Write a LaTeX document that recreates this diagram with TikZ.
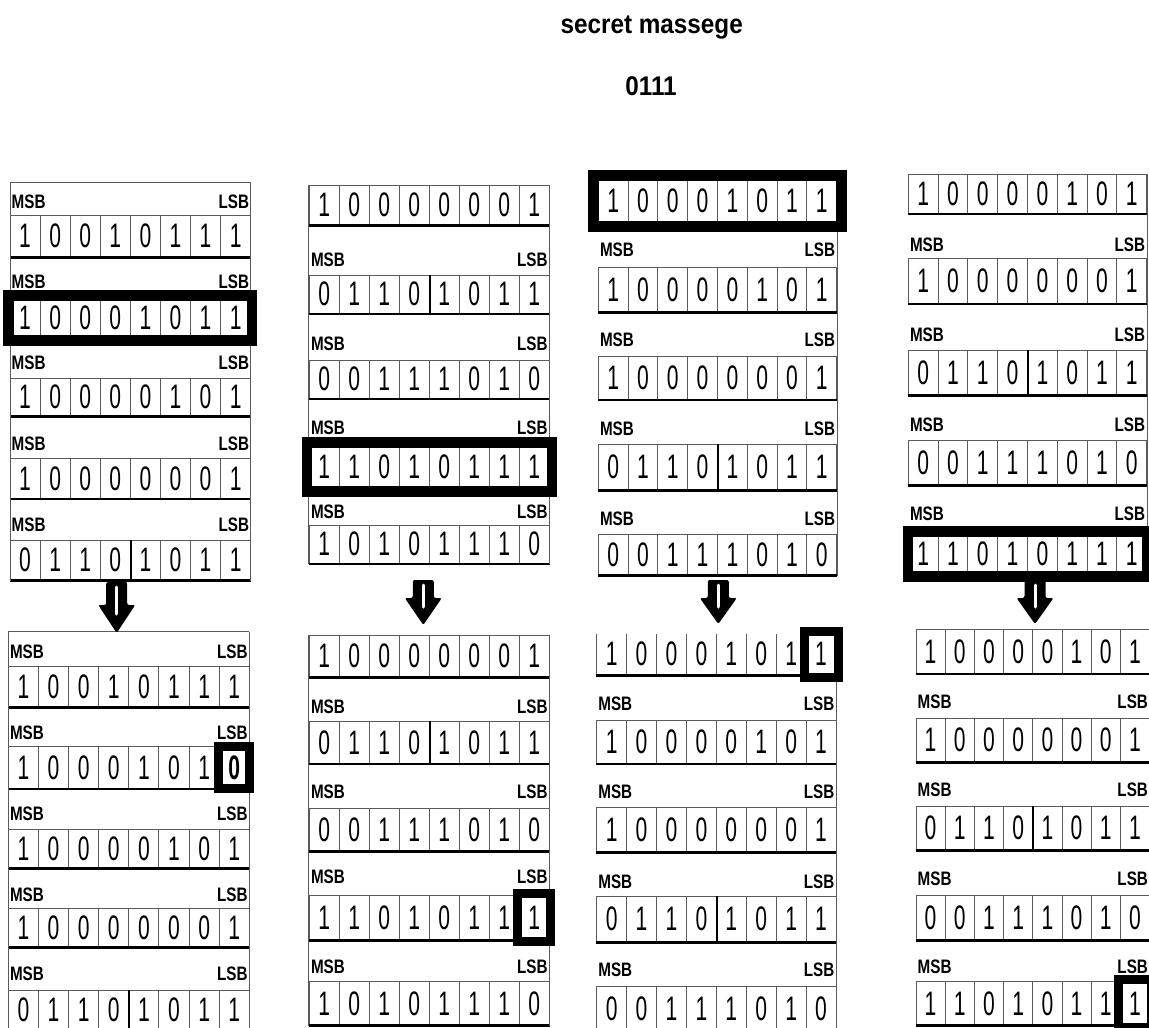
\documentclass[tikz,border=0pt]{standalone}
\usepackage{fontspec}
\usetikzlibrary{fit,calc}
\newfontfamily\bitfont[FakeStretch=0.62]{Liberation Sans}
\newfontfamily\lblfont[FakeStretch=0.78]{Liberation Sans}
\newfontfamily\ttlfont[FakeStretch=0.9]{Liberation Sans}
\definecolor{gridgray}{HTML}{5A5A5A}
\tikzset{
  bitcell/.style={draw=gridgray, line width=1pt, inner sep=0pt, text=black,
    font=\bitfont\fontsize{34}{34}\selectfont},
  lbl/.style={inner sep=0pt, text=black, font=\lblfont\bfseries\fontsize{19.5}{19.5}\selectfont},
  ttl/.style={inner sep=0pt, text=black, font=\ttlfont\bfseries\fontsize{27}{27}\selectfont},
  thinline/.style={draw=gridgray, line width=1pt},
  thickline/.style={draw=black, line width=2.6pt},
  midline/.style={draw=black, line width=1.8pt},
  hlbox/.style={draw=black, line width=10.5pt, inner sep=1pt},
  hlcell/.style={draw=black, line width=9pt, inner sep=0pt},
}
\newcommand\brow[6]{% name, xL, xR, ytop, ybot, bits
  \pgfmathsetmacro\cw{(#3-#2)/8}
  \pgfmathsetmacro\ch{#5-#4}
  \foreach \b [count=\i from 0] in {#6} {
    \node[bitcell, minimum width=\cw pt, minimum height=\ch pt] (#1-\i)
      at ({#2+(\i+0.5)*\cw},{(#4+#5)/2}) {\b};
  }
  \draw[thickline] (#1-0.south west) -- (#1-7.south east);
}
\newcommand\blabel[4]{% name, xL, xR, y
  \node[lbl, anchor=west] (#1-msb) at ({#2+1.5},#4) {MSB};
  \node[lbl, anchor=east] (#1-lsb) at ({#3-1.5},#4) {LSB};
}
\newcommand\midsep[1]{\draw[midline] (#1-3.north east) -- (#1-3.south east);}
\newcommand\barrow[4]{% cx, top, headstart, tip
  \fill[black, rounded corners=2pt] ({#1-10.5},#2) -- ({#1+10.5},#2) -- ({#1+10.5},#3)
    -- ({#1+18.5},#3) -- (#1,#4) -- ({#1-18.5},#3) -- ({#1-10.5},#3) -- cycle;
  \draw[white, line width=3pt, line cap=round] (#1,{#2+5}) -- (#1,{#3+9});
}
\begin{document}
\begin{tikzpicture}[x=1pt,y=-1pt]
\useasboundingbox (0,0) rectangle (1149,1028);
\clip (0,0) rectangle (1149,1028);
\fill[white] (0,0) rectangle (1149,1028);

% title
\node[ttl, anchor=base] (title) at (651.7,33.3) {secret massege};
\node[ttl, anchor=base] (msg) at (651,95) {0111};

% ---------- column 1 upper ----------
\coordinate (c1uTL) at (10,182.7);
\coordinate (c1uTR) at (250.7,182.7);
\draw[thinline] (c1uTL) -- (c1uTR);
\blabel{a1}{10}{250.7}{201.7}
\brow{a1}{10}{250.7}{215}{257}{1,0,0,1,0,1,1,1}
\blabel{a2}{10}{250.7}{281.7}
\brow{a2}{10}{250.7}{297}{339}{1,0,0,0,1,0,1,1}
\blabel{a3}{10}{250.7}{362.7}
\brow{a3}{10}{250.7}{378}{416}{1,0,0,0,0,1,0,1}
\blabel{a4}{10}{250.7}{443.3}
\brow{a4}{10}{250.7}{458.3}{498.3}{1,0,0,0,0,0,0,1}
\blabel{a5}{10}{250.7}{525}
\brow{a5}{10}{250.7}{540}{580}{0,1,1,0,1,0,1,1}
\midsep{a5}
\draw[thinline] (c1uTL) -- (c1uTL |- a5-0.south);
\draw[thinline] (c1uTR) -- (c1uTR |- a5-7.south);
\node[hlbox, fit=(a2-0)(a2-7)] (a2hl) {};

% ---------- column 1 lower ----------
\coordinate (c1lTL) at (8.3,631.7);
\coordinate (c1lTR) at (249.3,631.7);
\draw[thinline] (c1lTL) -- (c1lTR);
\blabel{b1}{8.3}{249.3}{651.7}
\brow{b1}{8.3}{249.3}{666}{706.7}{1,0,0,1,0,1,1,1}
\blabel{b2}{8.3}{249.3}{732.7}
\brow{b2}{8.3}{249.3}{746.7}{788.3}{1,0,0,0,1,0,1,\textbf{0}}
\blabel{b3}{8.3}{249.3}{813.3}
\brow{b3}{8.3}{249.3}{829.3}{867.7}{1,0,0,0,0,1,0,1}
\blabel{b4}{8.3}{249.3}{895}
\brow{b4}{8.3}{249.3}{908.3}{946.7}{1,0,0,0,0,0,0,1}
\blabel{b5}{8.3}{249.3}{973.3}
\brow{b5}{8.3}{249.3}{990}{1030}{0,1,1,0,1,0,1,1}
\midsep{b5}
\draw[thinline] (c1lTL) -- (c1lTL |- b5-0.south);
\draw[thinline] (c1lTR) -- (c1lTR |- b5-7.south);
\node[hlcell, fit=(b2-7)] (b2hl) {};

% ---------- column 2 upper ----------
\brow{c1}{309.3}{549.3}{185}{225}{1,0,0,0,0,0,0,1}
\blabel{c2}{309.3}{549.3}{260}
\brow{c2}{309.3}{549.3}{275}{313.3}{0,1,1,0,1,0,1,1}
\midsep{c2}
\blabel{c3}{309.3}{549.3}{343.3}
\brow{c3}{309.3}{549.3}{360}{398.3}{0,0,1,1,1,0,1,0}
\blabel{c4}{309.3}{549.3}{427.3}
\brow{c4}{309.3}{549.3}{445}{489}{1,1,0,1,0,1,1,1}
\blabel{c5}{309.3}{549.3}{511.7}
\brow{c5}{309.3}{549.3}{525}{563.3}{1,0,1,0,1,1,1,0}
\draw[thinline] (c1-0.north west) -- (c5-0.south west);
\draw[thinline] (c1-7.north east) -- (c5-7.south east);
\node[hlbox, fit=(c4-0)(c4-7), inner sep=2pt] (c4hl) {};

% ---------- column 2 lower ----------
\brow{d1}{309.3}{549.3}{635}{676.7}{1,0,0,0,0,0,0,1}
\blabel{d2}{309.3}{549.3}{706.7}
\brow{d2}{309.3}{549.3}{721.7}{763.3}{0,1,1,0,1,0,1,1}
\midsep{d2}
\blabel{d3}{309.3}{549.3}{791.7}
\brow{d3}{309.3}{549.3}{808}{851}{0,0,1,1,1,0,1,0}
\blabel{d4}{309.3}{549.3}{876.7}
\brow{d4}{309.3}{549.3}{895}{940}{1,1,0,1,0,1,1,1}
\blabel{d5}{309.3}{549.3}{966.7}
\brow{d5}{309.3}{549.3}{981.7}{1025}{1,0,1,0,1,1,1,0}
\draw[thinline] (d1-0.north west) -- (d5-0.south west);
\draw[thinline] (d1-7.north east) -- (d5-7.south east);
\node[hlcell, fit=(d4-7), inner sep=1pt] (d4hl) {};

% ---------- column 3 upper ----------
\brow{e1}{598.3}{836.7}{180.7}{221.7}{1,0,0,0,1,0,1,1}
\blabel{e2}{598.3}{836.7}{250}
\brow{e2}{598.3}{836.7}{267.3}{311.7}{1,0,0,0,0,1,0,1}
\blabel{e3}{598.3}{836.7}{340}
\brow{e3}{598.3}{836.7}{356}{399.3}{1,0,0,0,0,0,0,1}
\blabel{e4}{598.3}{836.7}{428.3}
\brow{e4}{598.3}{836.7}{444}{490}{0,1,1,0,1,0,1,1}
\midsep{e4}
\blabel{e5}{598.3}{836.7}{518.3}
\brow{e5}{598.3}{836.7}{534}{575}{0,0,1,1,1,0,1,0}
\draw[thinline] (e1-7.north east) -- (e5-7.south east);
\node[hlbox, fit=(e1-0)(e1-7), inner sep=4.5pt, line width=11pt] (e1hl) {};

% ---------- column 3 lower ----------
\brow{f1}{596.7}{836}{633.3}{675}{1,0,0,0,1,0,1,1}
\draw[white, line width=1.6pt] (f1-0.north west) -- (f1-6.north east);
\blabel{f2}{596.7}{836}{703.3}
\brow{f2}{596.7}{836}{720}{763.3}{1,0,0,0,0,1,0,1}
\blabel{f3}{596.7}{836}{791.7}
\brow{f3}{596.7}{836}{807.3}{851.7}{1,0,0,0,0,0,0,1}
\blabel{f4}{596.7}{836}{881.7}
\brow{f4}{596.7}{836}{896.7}{941.7}{0,1,1,0,1,0,1,1}
\midsep{f4}
\blabel{f5}{596.7}{836}{970}
\brow{f5}{596.7}{836}{986.7}{1030}{0,0,1,1,1,0,1,0}
\draw[thinline] (f1-7.north east) -- (f5-7.south east);
\node[hlcell, fit=(f1-7), inner sep=1.5pt] (f1hl) {};

% ---------- column 4 upper ----------
\brow{g1}{908.3}{1146.7}{174}{213.3}{1,0,0,0,0,1,0,1}
\blabel{g2}{908.3}{1146.7}{245}
\brow{g2}{908.3}{1146.7}{258.3}{303.3}{1,0,0,0,0,0,0,1}
\blabel{g3}{908.3}{1146.7}{335}
\brow{g3}{908.3}{1146.7}{350}{395}{0,1,1,0,1,0,1,1}
\midsep{g3}
\blabel{g4}{908.3}{1146.7}{425}
\brow{g4}{908.3}{1146.7}{440.7}{485}{0,0,1,1,1,0,1,0}
\blabel{g5}{908.3}{1146.7}{513.3}
\brow{g5}{908.3}{1146.7}{532}{576}{1,1,0,1,0,1,1,1}
\draw[thinline] (g1-7.north east) -- (g5-7.south east);
\node[hlbox, fit=(g5-0)(g5-7), inner sep=0pt] (g5hl) {};

% ---------- column 4 lower ----------
\brow{h1}{916}{1149.6}{629.3}{673.3}{1,0,0,0,0,1,0,1}
\blabel{h2}{916}{1149.6}{701.7}
\brow{h2}{916}{1149.6}{718.3}{761.7}{1,0,0,0,0,0,0,1}
\blabel{h3}{916}{1149.6}{790}
\brow{h3}{916}{1149.6}{806}{850}{0,1,1,0,1,0,1,1}
\midsep{h3}
\blabel{h4}{916}{1149.6}{878.3}
\brow{h4}{916}{1149.6}{895}{940}{0,0,1,1,1,0,1,0}
\blabel{h5}{916}{1149.6}{966.7}
\brow{h5}{916}{1149.6}{981.7}{1025}{1,1,0,1,0,1,1,1}
\node[hlcell, fit=(h5-7), inner sep=1.5pt] (h5hl) {};

% ---------- arrows ----------
\barrow{116.7}{582}{605}{633}
\barrow{423.3}{580}{598}{625}
\barrow{718.3}{580}{598}{624}
\barrow{1035}{580}{598}{624}
\end{tikzpicture}
\end{document}
